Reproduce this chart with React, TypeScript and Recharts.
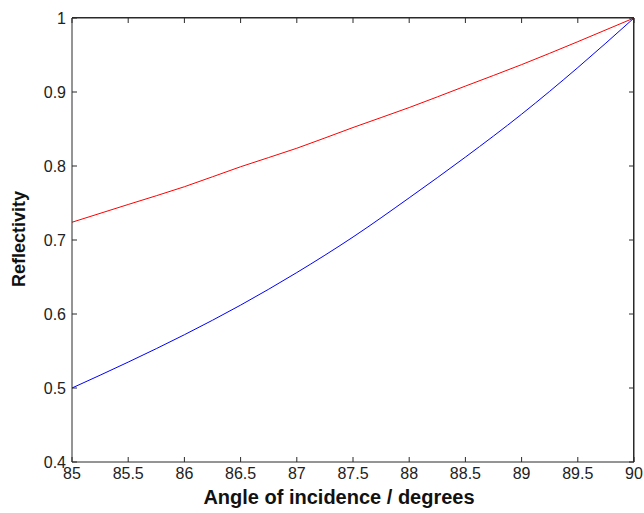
import React from 'react';
import { LineChart, Line, XAxis, YAxis, Label } from 'recharts';

const angles = [85, 85.5, 86, 86.5, 87, 87.5, 88, 88.5, 89, 89.5, 90];
const redSeries = [0.724, 0.748, 0.772, 0.799, 0.824, 0.852, 0.879, 0.908, 0.937, 0.968, 1.0];
const blueSeries = [0.5, 0.535, 0.572, 0.612, 0.656, 0.704, 0.757, 0.812, 0.87, 0.933, 1.0];
const xTicks = [85, 85.5, 86, 86.5, 87, 87.5, 88, 88.5, 89, 89.5, 90];
const yTicks = [0.4, 0.5, 0.6, 0.7, 0.8, 0.9, 1];
const xTitle = 'Angle of incidence / degrees';
const yTitle = 'Reflectivity';

const data = angles.map((a, i) => ({ angle: a, red: redSeries[i], blue: blueSeries[i] }));

const tickFont = { fontFamily: 'Liberation Sans, Arial, sans-serif', fontSize: 16, fill: '#222' };
const axisColor = '#2a2a2a';
const empty = () => <g />;

export default function App() {
  return (
    <div style={{ position: 'absolute', left: 0, top: 0, width: 644, height: 513, background: '#fff' }}>
      <LineChart width={644} height={513} data={data} margin={{ top: 17, right: 9, bottom: 0, left: 0 }}>
        <XAxis
          dataKey="angle"
          type="number"
          domain={[85, 90]}
          ticks={xTicks}
          tickFormatter={(v: number) => String(v)}
          interval={0}
          height={51}
          tickSize={-5}
          tickMargin={11}
          tick={tickFont}
          stroke={axisColor}
          tickLine={{ stroke: axisColor }}
          axisLine={{ stroke: axisColor }}
        >
          <Label
            content={() => (
              <text x={339} y={504} textAnchor="middle" fontFamily="Liberation Sans, Arial, sans-serif" fontWeight="bold" fontSize={20} fill="#111">
                {xTitle}
              </text>
            )}
          />
        </XAxis>
        <XAxis
          xAxisId="top"
          orientation="top"
          dataKey="angle"
          type="number"
          domain={[85, 90]}
          ticks={xTicks}
          interval={0}
          height={1}
          tickSize={-5}
          tick={empty}
          stroke={axisColor}
          strokeWidth={1}
        />
        <YAxis
          type="number"
          domain={[0.4, 1]}
          ticks={yTicks}
          interval={0}
          tickFormatter={(v: number) => String(v)}
          width={72}
          tickSize={-5}
          tickMargin={11}
          tick={tickFont}
          stroke={axisColor}
          tickLine={{ stroke: axisColor }}
          axisLine={{ stroke: axisColor }}
        >
          <Label
            content={() => (
              <text x={25} y={239} transform="rotate(-90 25 239)" textAnchor="middle" fontFamily="Liberation Sans, Arial, sans-serif" fontWeight="bold" fontSize={18} fill="#111">
                {yTitle}
              </text>
            )}
          />
        </YAxis>
        <YAxis
          yAxisId="right"
          orientation="right"
          type="number"
          domain={[0.4, 1]}
          ticks={yTicks}
          interval={0}
          width={1}
          tickSize={-5}
          tick={empty}
          stroke={axisColor}
          strokeWidth={1}
        />
        <Line xAxisId="top" yAxisId="right" type="monotone" dataKey="red" stroke="#ff0000" strokeWidth={1} dot={false} isAnimationActive={false} />
        <Line type="monotone" dataKey="blue" stroke="#0000ff" strokeWidth={1} dot={false} isAnimationActive={false} />
      </LineChart>
      <div
        style={{
          position: 'absolute',
          left: 72,
          top: 17,
          width: 562,
          height: 445,
          boxSizing: 'border-box',
          borderTop: `1px solid ${axisColor}`,
          borderRight: `1px solid ${axisColor}`,
          pointerEvents: 'none',
        }}
      />
    </div>
  );
}
